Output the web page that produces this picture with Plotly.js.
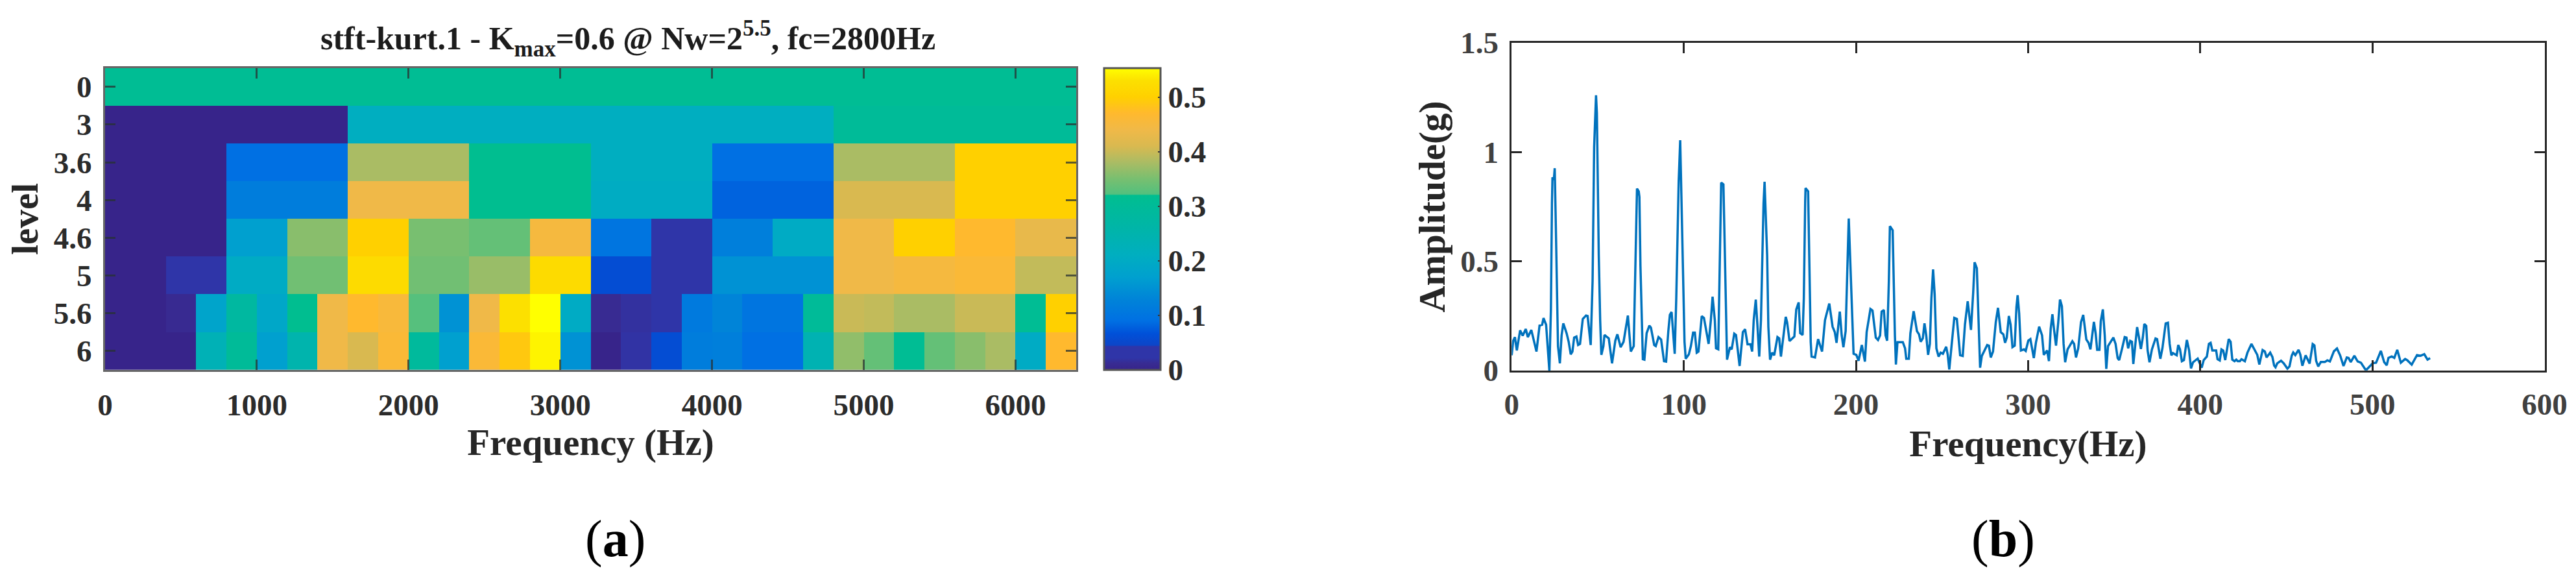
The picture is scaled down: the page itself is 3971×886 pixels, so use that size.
<!DOCTYPE html>
<html><head><meta charset="utf-8">
<script src="https://cdn.plot.ly/plotly-3.0.1.min.js"></script>
<style>html,body{margin:0;padding:0;background:#fff}#c{width:3971px;height:886px}</style>
</head><body><div id="c"></div>
<script>
const levelLabels = ['0','3','3.6','4','4.6','5','5.6','6'];
const binCentres = [100,300,500,700,900,1100,1300,1500,1700,1900,2100,2300,2500,2700,2900,3100,3300,3500,3700,3900,4100,4300,4500,4700,4900,5100,5300,5500,5700,5900,6100,6300];
const rowL0  = [.31,.31,.31,.31,.31,.31,.31,.31,.31,.31,.31,.31,.31,.31,.31,.31,.31,.31,.31,.31,.31,.31,.31,.31,.31,.31,.31,.31,.31,.31,.31,.31];
const rowL3  = [0,0,0,0,0,0,0,0,.21,.21,.21,.21,.21,.21,.21,.21,.21,.21,.21,.21,.21,.21,.21,.21,.30,.30,.30,.30,.30,.30,.30,.30];
const rowL36 = [0,0,0,0,.09,.09,.09,.09,.38,.38,.38,.38,.32,.32,.32,.32,.21,.21,.21,.21,.09,.09,.09,.09,.38,.38,.38,.38,.50,.50,.50,.50];
const rowL4  = [0,0,0,0,.115,.115,.115,.115,.44,.44,.44,.44,.32,.32,.32,.32,.205,.205,.205,.205,.08,.08,.08,.08,.41,.41,.41,.41,.50,.50,.50,.50];
const rowL46 = [0,0,0,0,.17,.17,.36,.36,.50,.50,.35,.35,.335,.335,.45,.45,.10,.10,.03,.03,.12,.12,.20,.20,.44,.44,.50,.50,.47,.47,.43,.43];
const rowL5  = [0,0,.03,.03,.20,.20,.345,.345,.52,.52,.345,.345,.37,.37,.52,.52,.06,.06,.03,.03,.15,.15,.15,.15,.44,.44,.45,.45,.46,.46,.395,.395];
const rowL56 = [0,0,.01,.18,.28,.19,.32,.44,.47,.455,.325,.15,.44,.53,.553,.20,.012,.018,.04,.11,.13,.10,.10,.30,.40,.395,.38,.38,.40,.40,.31,.50];
const rowL6  = [0,0,0,.23,.30,.17,.25,.44,.41,.46,.29,.17,.46,.49,.545,.15,0,.02,.06,.115,.12,.09,.09,.24,.365,.335,.31,.335,.36,.38,.20,.47];
const kurtZ = [rowL0,rowL3,rowL36,rowL4,rowL46,rowL5,rowL56,rowL6];

const specFreq = [0,.9,1.9,3,4.9,6.4,8.2,9.4,11.4,14.4,16.2,17.7,18.5,20,21.9,22.8,23.4,23.7,24.5,25,25.5,26.3,26.9,28,29,30,31.9,33.1,34.3,35.3,36.3,37.6,38.6,39.7,41.3,43.2,44.1,45.9,47,47.9,49,49.5,49.9,50.6,51.4,52.1,53.3,53.9,56.4,58.3,60.2,61.4,63.3,65,67.5,69.2,70.9,71.8,72.4,72.8,73.8,74.2,74.8,75.5,76.2,77.1,78.4,80,80.9,82.8,83.7,85.3,86.8,88.5,89.7,91,91.9,92.9,94.7,95.6,96.4,97,97.9,98.5,99.1,99.9,100.4,101.1,102.9,104.1,105.4,106.4,107.5,108.5,110.4,111.7,112.9,114.4,115.7,116.7,118,118.7,120,120.7,121.5,121.7,123,123.6,124.5,125.1,126.8,127.8,129.3,130.3,132.4,134.3,135.6,137,138.7,139.7,140.6,141.8,142.8,143.8,144.8,145.6,146.3,146.9,147.6,148.4,149.1,150.1,151.3,152.5,154.4,155.4,156.4,157.6,159.2,160,161.4,164.2,165.3,166.7,167.6,169,169.7,170.5,170.7,172.2,173,173.7,174.2,176.2,178,180.3,182,184.5,186.4,187.7,188.7,190.6,191.7,192.7,194,194.6,195.2,195.8,196.5,197.1,198,198.6,200.2,201.5,203.4,205.2,206.2,208.4,209.6,211.5,212.8,214,214.9,216.2,217.2,218.1,219.1,219.7,221.3,221.9,222.6,223.2,224.1,227.2,228.5,229.2,230.7,231.6,233.5,235.4,236.6,237.6,238.8,239.8,240.8,241.9,242.9,243.8,244.8,245.7,246.7,248,249.2,250.5,252.4,253.3,254.2,255.5,257.1,258.6,260.5,262,263.3,264.9,266.8,268.1,268.9,270.2,270.8,271.4,272.1,273.1,276.2,277.2,278.3,279.6,281.2,282.5,284.1,285.6,286.6,287.6,288.8,289.8,290.9,292.2,293.2,293.9,294.8,295.8,297.6,298.6,300.1,301.3,303.3,304.5,306.4,308.1,309.1,311,312.1,313.1,314.1,315,316.2,317.5,318.5,319.6,320.6,321.5,322.9,325.7,326.7,327.8,329.1,330.7,332,333.8,335.1,336.2,337.2,338.2,339.2,340.1,341.4,342.2,343.4,344.5,345.4,346.4,349.5,350.8,352,352.9,354.6,356.1,357.1,358.1,359.3,360.3,361.1,362.3,363.3,364.4,365.5,366.6,367.5,368.6,369.4,370.5,371.9,374,374.9,376.8,378,379.9,381.2,382.2,383.2,384.1,386.3,387.2,388.2,389.3,390.5,392.2,393.5,394.6,395.8,398.5,400.8,402,403.8,405,406,407,409.2,410,411.3,412.3,413.3,414.5,416.5,417.6,418.6,419.9,420.9,421.8,423,423.9,425.9,427.4,429.7,433.1,434.3,436.2,437.5,438.5,440.6,441.9,442.9,443.7,444.7,446.9,448.5,450.6,451.8,453.1,454,455.2,457.1,458.1,459.3,461.2,463.5,465.3,466.3,467.3,468.5,470,472.3,473.8,475.3,477.6,479.4,481.3,483.2,485.1,486.1,487.4,489.5,491.4,493.3,495.8,496.8,500.2,502.1,504.9,506.8,508.3,509.3,511.2,512.7,514.4,516.5,519,520.3,522.8,525.9,528,530.1,532,533.5];
const specAmp = [.07,.137,.153,.092,.184,.16,.19,.153,.186,.087,.206,.21,.24,.21,0,.28,.765,.884,.874,.926,.726,.38,.112,.033,.161,.216,.171,.132,.074,.087,.151,.156,.117,.122,.236,.252,.25,.117,.409,1.023,1.26,1.18,.904,.528,.231,.072,.112,.163,.147,.033,.137,.166,.107,.132,.252,.087,.112,.429,.726,.833,.82,.795,.478,.231,.052,.05,.171,.206,.196,.117,.112,.153,.142,.043,.041,.181,.255,.268,.077,.33,.726,.864,1.054,.845,.627,.33,.132,.054,.074,.112,.174,.174,.082,.087,.249,.241,.181,.122,.231,.338,.231,.102,.097,.399,.825,.86,.852,.627,.231,.05,.107,.097,.169,.163,.021,.176,.189,.12,.12,.087,.231,.325,.201,.064,.231,.577,.765,.864,.726,.528,.201,.05,.082,.07,.153,.147,.064,.147,.246,.221,.135,.156,.28,.312,.171,.163,.33,.775,.835,.82,.478,.132,.064,.06,.144,.087,.231,.307,.201,.176,.127,.27,.161,.107,.181,.419,.528,.696,.538,.409,.142,.077,.072,.045,.117,.041,.176,.282,.275,.151,.14,.161,.27,.277,.161,.137,.409,.661,.642,.359,.161,.028,.13,.13,.102,.054,.054,.171,.272,.181,.166,.132,.147,.216,.161,.072,.122,.33,.463,.35,.102,.064,.082,.077,.109,.072,.005,.112,.241,.236,.07,.067,.211,.317,.186,.359,.496,.468,.31,.142,.013,.067,.117,.114,.06,.087,.221,.287,.176,.166,.127,.151,.25,.211,.107,.114,.29,.345,.26,.092,.097,.09,.137,.144,.057,.127,.201,.161,.072,.092,.043,.191,.258,.191,.114,.221,.325,.295,.122,.038,.097,.134,.122,.06,.102,.221,.255,.142,.127,.097,.151,.223,.171,.095,.095,.226,.28,.161,.008,.112,.151,.122,.057,.048,.102,.153,.151,.102,.136,.132,.03,.122,.199,.151,.099,.151,.213,.204,.092,.038,.097,.147,.144,.054,.102,.216,.219,.122,.07,.08,.07,.117,.097,.043,.048,.14,.092,.01,.038,.055,.013,.048,.064,.122,.127,.092,.092,.052,.046,.097,.092,.048,.144,.132,.05,.043,.05,.043,.043,.052,.043,.082,.122,.072,.028,.094,.087,.06,.082,.062,.023,.015,.033,.045,.033,.009,.019,.068,.083,.071,.095,.073,.022,.07,.032,.121,.115,.044,.019,.039,.039,.047,.042,.088,.101,.068,.021,.06,.058,.039,.068,.042,.036,.006,.006,.034,.036,.09,.039,.024,.058,.065,.058,.095,.036,.053,.047,.027,.071,.068,.075,.05,.057];

const kurtMax = 0.553;
const scaleStops = [[0,'#37248a'],[.012,'#382b92'],[.022,'#2f35a8'],[.043,'#2f35a8'],[.045,'#0d45c8'],[.066,'#0050d8'],[.09,'#0070e3'],[.13,'#0084d8'],[.17,'#00a0cf'],[.21,'#00aec0'],[.26,'#00b5a8'],[.32,'#00be90'],[.322,'#52c07e'],[.35,'#78bf70'],[.38,'#aabc64'],[.41,'#d9b950'],[.44,'#f0b948'],[.47,'#ffb92e'],[.50,'#ffd000'],[.53,'#fce000'],[.553,'#ffff00']];
const colorscale = scaleStops.map(s => [s[0]/kurtMax, s[1]]);

const W = 3971, H = 886;
const px = v => v / W, py = v => 1 - v / H;
const serif = 'Liberation Serif';
const tickFontL = {family: serif, size: 47, color: '#2b2b2b', weight: 700};
const tickFontR = {family: serif, size: 47, color: '#404040', weight: 700};
const titleFont = {family: serif, size: 57, color: '#262626', weight: 700};

const heat = {type:'heatmap', x:binCentres, y:levelLabels.map((_,i)=>i), z:kurtZ, zmin:0, zmax:kurtMax, colorscale,
  xaxis:'x', yaxis:'y', hoverinfo:'skip',
  colorbar:{x:px(1702), xanchor:'left', xpad:0, y:py(570), yanchor:'bottom', ypad:0,
    thicknessmode:'pixels', thickness:87, lenmode:'pixels', len:465,
    outlinecolor:'#555', outlinewidth:3, ticks:'inside', ticklen:5, tickwidth:2, tickcolor:'#333',
    tickmode:'array', tickvals:[0,.1,.2,.3,.4,.5], ticktext:['0','0.1','0.2','0.3','0.4','0.5'],
    tickprefix:'\u00a0\u200a', tickfont:tickFontL}};
const spec = {type:'scatter', mode:'lines', x:specFreq, y:specAmp, xaxis:'x2', yaxis:'y2',
  line:{color:'#0072BD', width:3.5}, hoverinfo:'skip'};

const layout = {
  width:W, height:H, margin:{l:0,r:0,t:0,b:0}, paper_bgcolor:'#fff', plot_bgcolor:'#fff', showlegend:false,
  xaxis:{domain:[px(162),px(1659)], range:[0,6400], anchor:'y', tickmode:'array', tickvals:[0,1000,2000,3000,4000,5000,6000],
    ticktext:['0','1000','2000','3000','4000','5000','6000'],
    showgrid:false, zeroline:false, showline:true, linecolor:'#666', linewidth:3, mirror:'ticks', ticks:'inside', ticklen:16, tickwidth:3, tickcolor:'rgba(40,50,50,.75)',
    tickfont:tickFontL, ticklabelstandoff:11,
    title:{text:'Frequency (Hz)', font:titleFont, standoff:9}},
  yaxis:{domain:[py(570),py(104.7)], range:[7.5,-.5], anchor:'x', tickmode:'array', tickvals:levelLabels.map((_,i)=>i), ticktext:levelLabels,
    showgrid:false, zeroline:false, showline:true, linecolor:'#666', linewidth:3, mirror:'ticks', ticks:'inside', ticklen:16, tickwidth:3, tickcolor:'rgba(40,50,50,.75)',
    tickfont:tickFontL, ticklabelstandoff:8,
    title:{text:'level', font:titleFont, standoff:6}},
  xaxis2:{domain:[px(2330.3),px(3922.6)], range:[0,600], anchor:'y2', tickmode:'array', tickvals:[0,100,200,300,400,500,600],
    showgrid:false, zeroline:false, showline:true, linecolor:'#262626', linewidth:3, mirror:'ticks', ticks:'inside', ticklen:16, tickwidth:3, tickcolor:'#262626',
    tickfont:tickFontR, ticklabelstandoff:9,
    title:{text:'Frequency(Hz)', font:titleFont, standoff:15}},
  yaxis2:{domain:[py(571),py(66)], range:[0,1.5], anchor:'x2', tickmode:'array', tickvals:[0,.5,1,1.5], ticktext:['0','0.5','1','1.5'],
    showgrid:false, zeroline:false, showline:true, linecolor:'#262626', linewidth:3, mirror:'ticks', ticks:'inside', ticklen:16, tickwidth:3, tickcolor:'#262626',
    tickfont:tickFontR, ticklabelstandoff:8,
    title:{text:'Amplitude(g)', font:titleFont, standoff:6}},
  annotations:[
    {xref:'paper', yref:'paper', x:px(968), y:py(60), xanchor:'center', yanchor:'middle', showarrow:false,
     text:'stft-kurt.1 - K<sub>max</sub>=0.6 @ Nw=2<sup>5.5</sup>, fc=2800Hz', font:{family:serif,size:50,color:'#1c1c1c',weight:700}},
    {xref:'paper', yref:'paper', x:px(948), y:py(830), xanchor:'center', yanchor:'middle', showarrow:false,
     text:'(<b>a</b>)', font:{family:serif,size:80,color:'#000'}},
    {xref:'paper', yref:'paper', x:px(3088), y:py(830), xanchor:'center', yanchor:'middle', showarrow:false,
     text:'(<b>b</b>)', font:{family:serif,size:80,color:'#000'}}
  ]
};
Plotly.newPlot('c',[heat,spec],layout,{displayModeBar:false,staticPlot:true});
</script>
</body></html>
